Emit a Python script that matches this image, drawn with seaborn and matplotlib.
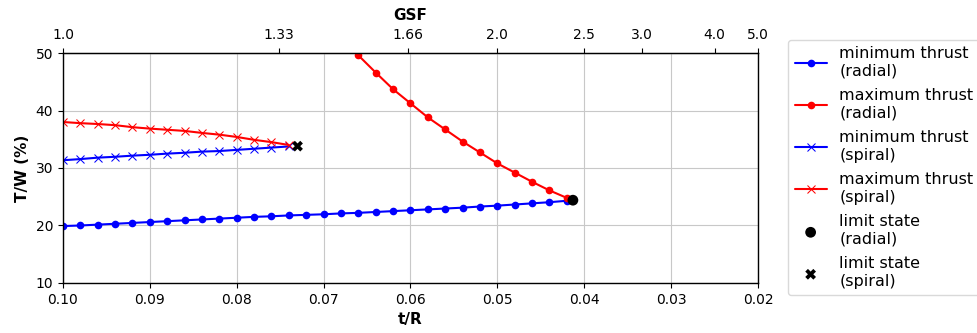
import numpy as np
import matplotlib
matplotlib.use("Agg")
import matplotlib.pyplot as plt
import seaborn as sns

# t/R steps (0.002) and T/W (%) values
tr_min_radial = [0.100, 0.098, 0.096, 0.094, 0.092, 0.090, 0.088, 0.086, 0.084, 0.082,
                 0.080, 0.078, 0.076, 0.074, 0.072, 0.070, 0.068, 0.066, 0.064, 0.062,
                 0.060, 0.058, 0.056, 0.054, 0.052, 0.050, 0.048, 0.046, 0.044, 0.042]
tw_min_radial = [19.9, 20.0, 20.15, 20.3, 20.45, 20.6, 20.75, 20.9, 21.05, 21.2,
                 21.35, 21.5, 21.6, 21.75, 21.85, 21.95, 22.1, 22.2, 22.35, 22.5,
                 22.65, 22.8, 22.95, 23.1, 23.3, 23.45, 23.65, 23.85, 24.05, 24.3]

tr_max_radial = [0.066, 0.064, 0.062, 0.060, 0.058, 0.056, 0.054, 0.052, 0.050,
                 0.048, 0.046, 0.044, 0.042]
tw_max_radial = [49.6, 46.6, 43.7, 41.25, 38.8, 36.7, 34.6, 32.7, 30.8,
                 29.2, 27.6, 26.1, 24.8]

tr_spiral = [0.100, 0.098, 0.096, 0.094, 0.092, 0.090, 0.088, 0.086, 0.084, 0.082,
             0.080, 0.078, 0.076, 0.074]
tw_min_spiral = [31.35, 31.55, 31.8, 31.95, 32.15, 32.3, 32.5, 32.65, 32.85, 32.95,
                 33.15, 33.35, 33.55, 33.75]
tw_max_spiral = [38.0, 37.8, 37.65, 37.45, 37.1, 36.85, 36.65, 36.45, 36.1, 35.8,
                 35.4, 34.9, 34.5, 34.0]

limit_radial = (0.0413, 24.4)
limit_spiral = (0.0730, 33.8)

gsf_ticks = [1.0, 1.33, 1.66, 2.0, 2.5, 3.0, 4.0, 5.0]
gsf_labels = ["1.0", "1.33", "1.66", "2.0", "2.5", "3.0", "4.0", "5.0"]

sns.set_style("ticks", {"axes.grid": True, "grid.color": "#c8c8c8"})
plt.rcParams["font.family"] = ["DejaVu Sans"]
plt.rcParams["text.color"] = "black"
plt.rcParams["axes.labelcolor"] = "black"
plt.rcParams["xtick.color"] = "black"
plt.rcParams["ytick.color"] = "black"

fig = plt.figure(figsize=(9.78, 3.33), dpi=100)
ax = fig.add_axes([0.0644, 0.1502, 0.7106, 0.6906])

sns.lineplot(x=tr_min_radial, y=tw_min_radial, ax=ax, color="blue", marker="o",
             markersize=5.5, markeredgewidth=0, sort=False, label="minimum thrust\n(radial)")
sns.lineplot(x=tr_max_radial, y=tw_max_radial, ax=ax, color="red", marker="o",
             markersize=5.5, markeredgewidth=0, sort=False, label="maximum thrust\n(radial)")
sns.lineplot(x=tr_spiral, y=tw_min_spiral, ax=ax, color="blue", marker="x",
             markersize=6, markeredgecolor="blue", sort=False, label="minimum thrust\n(spiral)")
sns.lineplot(x=tr_spiral, y=tw_max_spiral, ax=ax, color="red", marker="x",
             markersize=6, markeredgecolor="red", sort=False, label="maximum thrust\n(spiral)")
sns.scatterplot(x=[limit_radial[0]], y=[limit_radial[1]], ax=ax, color="black",
                marker="o", s=60, edgecolor="none", label="limit state\n(radial)", zorder=5)
sns.scatterplot(x=[limit_spiral[0]], y=[limit_spiral[1]], ax=ax, color="black",
                marker="X", s=60, edgecolor="none", label="limit state\n(spiral)", zorder=5)

ax.set_xlim(0.10, 0.02)
ax.set_ylim(10, 50)
ax.set_xticks([0.10, 0.09, 0.08, 0.07, 0.06, 0.05, 0.04, 0.03, 0.02])
ax.set_xticklabels(["0.10", "0.09", "0.08", "0.07", "0.06", "0.05", "0.04", "0.03", "0.02"])
ax.set_yticks([10, 20, 30, 40, 50])
ax.tick_params(labelsize=10, direction="out", length=3.5, color="black")
for s in ax.spines.values():
    s.set_color("black")
    s.set_linewidth(1.0)
ax.set_xlabel("t/R", fontsize=11, fontweight="bold")
ax.set_ylabel("T/W (%)", fontsize=11, fontweight="bold")

top = ax.secondary_xaxis("top", functions=(lambda x: 0.1 / x, lambda g: 0.1 / g))
top.set_xticks(gsf_ticks)
top.set_xticklabels(gsf_labels)
top.tick_params(labelsize=10, direction="out", length=3.5, pad=4.5)
top.set_xlabel("GSF", fontsize=11, fontweight="bold", labelpad=6)

ax.legend(loc="upper left", bbox_to_anchor=(0.806, 0.88), bbox_transform=fig.transFigure,
          fontsize=11.5, frameon=True, edgecolor="#d0d0d0", handlelength=2.0,
          labelspacing=0.6, borderaxespad=0)

fig.savefig("out.png", dpi=100)
